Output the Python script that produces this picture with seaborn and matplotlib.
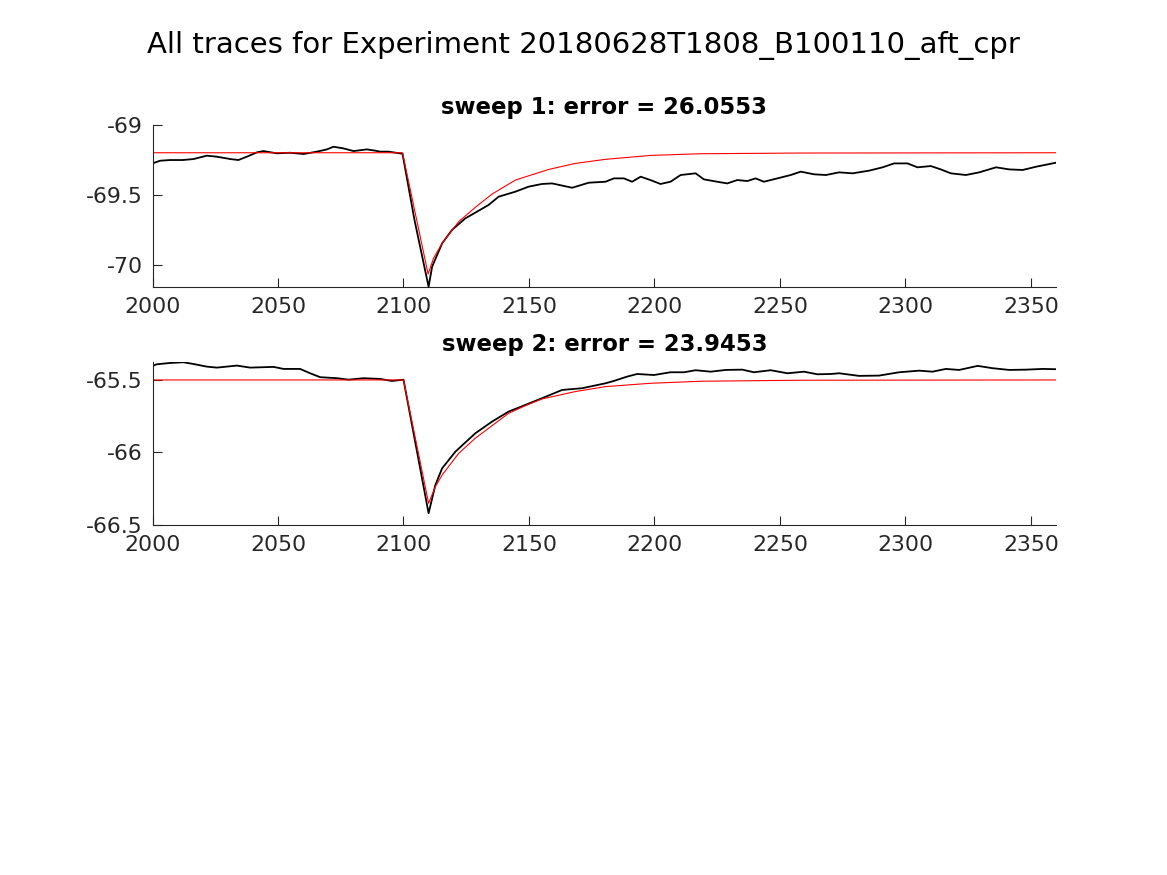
import matplotlib
matplotlib.use("Agg")
import matplotlib.pyplot as plt
import seaborn as sns
import pandas as pd

# ---------------- data ----------------
title_main = "All traces for Experiment 20180628T1808_B100110_aft_cpr"
sweep_titles = ["sweep 1: error = 26.0553", "sweep 2: error = 23.9453"]

xticks = [2000, 2050, 2100, 2150, 2200, 2250, 2300, 2350]
xtick_labels = ["2000", "2050", "2100", "2150", "2200", "2250", "2300", "2350"]
s1_yticks = [-70.0, -69.5, -69.0]
s1_ytick_labels = ["-70", "-69.5", "-69"]
s2_yticks = [-66.5, -66.0, -65.5]
s2_ytick_labels = ["-66.5", "-66", "-65.5"]

# sweep 1 recorded trace
s1_t = [2000.0, 2003.0, 2007.0, 2012.0, 2016.3, 2021.6, 2025.6, 2031.0, 2034.2, 2037.6,
        2041.6, 2044.2, 2049.5, 2054.8, 2060.2, 2065.5, 2069.5, 2072.1, 2076.1, 2080.1,
        2085.4, 2088.7, 2090.7, 2094.0, 2099.6, 2104.4, 2110.0, 2111.4, 2115.4, 2119.3,
        2124.6, 2128.6, 2133.9, 2137.9, 2144.6, 2149.9, 2155.2, 2159.2, 2167.2, 2173.8,
        2180.5, 2183.8, 2187.8, 2191.1, 2194.5, 2198.4, 2202.4, 2206.4, 2210.4, 2216.4,
        2219.7, 2225.0, 2229.0, 2233.0, 2237.0, 2240.3, 2243.6, 2249.0, 2254.3, 2258.3,
        2263.6, 2268.3, 2273.6, 2278.9, 2285.5, 2290.9, 2295.5, 2300.8, 2304.8, 2310.1,
        2314.1, 2318.1, 2324.1, 2329.4, 2336.1, 2341.4, 2346.7, 2352.0, 2360.0]
s1_v = [-69.274, -69.255, -69.250, -69.250, -69.243, -69.219, -69.226, -69.243, -69.250, -69.226,
        -69.195, -69.186, -69.202, -69.198, -69.207, -69.190, -69.174, -69.155, -69.167, -69.186,
        -69.174, -69.183, -69.190, -69.190, -69.205, -69.680, -70.155, -70.012, -69.845, -69.750,
        -69.667, -69.626, -69.571, -69.512, -69.476, -69.440, -69.421, -69.417, -69.448, -69.412,
        -69.405, -69.381, -69.381, -69.405, -69.369, -69.393, -69.421, -69.405, -69.357, -69.345,
        -69.388, -69.405, -69.417, -69.393, -69.400, -69.381, -69.405, -69.381, -69.357, -69.333,
        -69.352, -69.357, -69.338, -69.345, -69.326, -69.302, -69.274, -69.274, -69.302, -69.293,
        -69.317, -69.345, -69.357, -69.338, -69.302, -69.317, -69.321, -69.298, -69.269]

# sweep 1 fit
s1_fit_t = [2000.0, 2099.6, 2109.8, 2112.0, 2115.4, 2122.0, 2128.6, 2135.3, 2144.6, 2157.9,
            2168.5, 2180.5, 2198.4, 2218.4, 2258.0, 2360.0]
s1_fit_v = [-69.198, -69.198, -70.064, -69.950, -69.845, -69.690, -69.588, -69.493, -69.393, -69.317,
            -69.274, -69.245, -69.217, -69.205, -69.200, -69.198]

# sweep 2 recorded trace
s2_t = [2000.0, 2001.7, 2007.0, 2012.3, 2016.3, 2021.6, 2025.6, 2033.6, 2038.9, 2048.2,
        2052.2, 2058.8, 2062.8, 2066.8, 2073.5, 2078.1, 2084.1, 2090.7, 2095.4, 2100.0,
        2110.0, 2112.7, 2115.4, 2120.7, 2128.6, 2135.3, 2141.9, 2148.6, 2155.2, 2163.2,
        2171.2, 2180.5, 2183.8, 2189.1, 2193.1, 2199.8, 2206.4, 2211.8, 2216.4, 2222.4,
        2228.4, 2235.0, 2239.6, 2246.3, 2253.0, 2259.6, 2264.9, 2270.2, 2273.6, 2281.5,
        2289.5, 2297.5, 2305.5, 2310.8, 2316.1, 2321.4, 2328.8, 2334.7, 2341.4, 2348.0,
        2354.7, 2360.0]
s2_v = [-65.403, -65.392, -65.383, -65.378, -65.390, -65.408, -65.415, -65.401, -65.415, -65.410,
        -65.424, -65.424, -65.454, -65.481, -65.488, -65.498, -65.488, -65.493, -65.507, -65.498,
        -66.419, -66.224, -66.109, -65.994, -65.868, -65.787, -65.718, -65.672, -65.626, -65.569,
        -65.557, -65.523, -65.507, -65.477, -65.459, -65.466, -65.447, -65.447, -65.433, -65.443,
        -65.431, -65.429, -65.447, -65.433, -65.454, -65.443, -65.461, -65.459, -65.454, -65.472,
        -65.470, -65.447, -65.436, -65.443, -65.424, -65.431, -65.403, -65.419, -65.431, -65.429,
        -65.424, -65.426]

# sweep 2 fit
s2_fit_t = [2000.0, 2100.0, 2110.0, 2112.7, 2115.4, 2122.0, 2128.6, 2135.3, 2141.9, 2148.6,
            2155.2, 2168.5, 2180.5, 2198.4, 2218.4, 2258.0, 2360.0]
s2_fit_v = [-65.500, -65.500, -66.350, -66.236, -66.155, -66.006, -65.902, -65.815, -65.730, -65.677,
            -65.631, -65.580, -65.546, -65.523, -65.509, -65.502, -65.500]

# ---------------- style ----------------
sns.set_theme(style="white")
plt.rcParams["font.family"] = ["DejaVu Sans"]
plt.rcParams["axes.unicode_minus"] = False

fig = plt.figure(figsize=(11.67, 8.75), dpi=100)
fig.patch.set_facecolor("white")

ax1 = fig.add_axes([0.1307, 0.672, 0.7742, 0.1851])
ax2 = fig.add_axes([0.1307, 0.400, 0.7742, 0.1860])

panels = [
    (ax1, s1_t, s1_v, s1_fit_t, s1_fit_v, sweep_titles[0], s1_yticks, s1_ytick_labels, (-70.157, -69.0)),
    (ax2, s2_t, s2_v, s2_fit_t, s2_fit_v, sweep_titles[1], s2_yticks, s2_ytick_labels, (-66.5, -65.378)),
]

for ax, t, v, ft, fv, ttl, yt, ytl, ylim in panels:
    df = pd.DataFrame({"t": t, "v": v})
    dff = pd.DataFrame({"t": ft, "v": fv})
    sns.lineplot(data=df, x="t", y="v", ax=ax, color="black", linewidth=1.3,
                 estimator=None, sort=False)
    sns.lineplot(data=dff, x="t", y="v", ax=ax, color="#ff0000", linewidth=0.8,
                 estimator=None, sort=False)
    ax.set_xlim(2000, 2360)
    ax.set_ylim(*ylim)
    ax.set_xticks(xticks)
    ax.set_xticklabels(xtick_labels)
    ax.set_yticks(yt)
    ax.set_yticklabels(ytl)
    ax.set_xlabel("")
    ax.set_ylabel("")
    ax.set_title(ttl, fontsize=16.4, fontweight="bold", color="black", pad=8)
    for side in ["top", "right"]:
        ax.spines[side].set_visible(False)
    for side in ["left", "bottom"]:
        ax.spines[side].set_color("#262626")
        ax.spines[side].set_linewidth(0.8)
    ax.tick_params(axis="both", direction="in", length=6.5, width=0.8, color="#262626",
                   labelsize=15.8, labelcolor="#262626", pad=7,
                   bottom=True, left=True, top=False, right=False)
    ax.set_facecolor("white")

fig.text(0.5, 0.948, title_main, ha="center", va="center", fontsize=21, color="black")

fig.savefig("out.png", dpi=100, facecolor="white")
